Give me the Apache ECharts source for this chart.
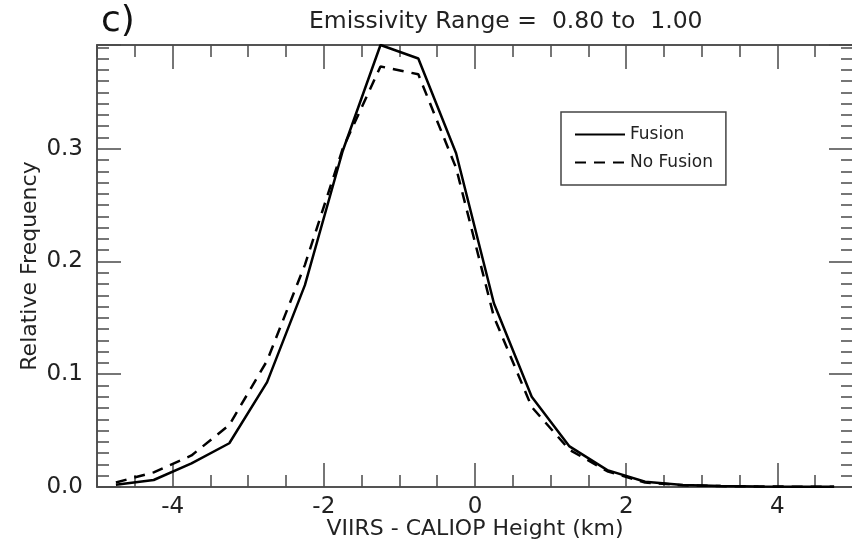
<!DOCTYPE html>
<html>
<head>
<meta charset="utf-8">
<script src="https://cdn.jsdelivr.net/npm/echarts@6/dist/echarts.min.js"></script>
<style>
  html, body { margin: 0; padding: 0; background: #fff; }
  #chart { width: 852px; height: 544px; }
</style>
</head>
<body>
<div id="chart"></div>
<script>
// bin centres (km) and relative frequency of each curve
const binCenters = [-4.75, -4.25, -3.75, -3.25, -2.75, -2.25, -1.75, -1.25, -0.75, -0.25,
                    0.25, 0.75, 1.25, 1.75, 2.25, 2.75, 3.25, 3.75, 4.25, 4.75];
const fusion   = [0.002, 0.0062, 0.021, 0.0388, 0.093, 0.179, 0.298, 0.392, 0.380, 0.296,
                  0.163, 0.080, 0.036, 0.015, 0.0047, 0.0018, 0.0008, 0.0005, 0.0003, 0.0002];
const noFusion = [0.004, 0.013, 0.028, 0.055, 0.112, 0.197, 0.300, 0.373, 0.366, 0.283,
                  0.151, 0.071, 0.033, 0.014, 0.004, 0.0015, 0.0008, 0.0005, 0.0003, 0.0002];
const xMajorTicks = [-4, -2, 0, 2, 4];
const yMax = 0.392;

const FONT = 'DejaVu Sans';
const axisCol = '#4a4a4a';

function pairs(ys) {
    return binCenters.map((x, i) => [x, ys[i]]);
}

// one axis helper: major or minor ticks, optional labels
function xAx(pos, major, labels) {
    let ax = {
        type: 'value', position: pos, min: -5, max: 5,
        axisLine: { show: true, onZero: false, lineStyle: { color: axisCol, width: 1.5 } },
        axisTick: { show: true, inside: true, length: major ? 24 : 12, lineStyle: { color: axisCol, width: 1.5 } },
        axisLabel: { show: false },
        splitLine: { show: false }
    };
    if (major) {
        ax.axisTick.customValues = xMajorTicks;
        ax.axisLabel = labels ? {
            show: true, customValues: xMajorTicks, margin: 9,
            color: '#222', fontSize: 23, fontFamily: FONT
        } : { show: false };
    } else {
        ax.interval = 0.5;
    }
    if (labels) {
        ax.name = 'VIIRS - CALIOP Height (km)';
        ax.nameLocation = 'middle';
        ax.nameMoveOverlap = false;
        ax.nameGap = 31;
        ax.nameTextStyle = { color: '#222', fontSize: 22, fontFamily: FONT };
    }
    return ax;
}

function yAx(pos, major, labels) {
    let ax = {
        type: 'value', position: pos, min: 0, max: yMax,
        interval: major ? 0.1 : 0.01,
        axisLine: { show: pos === 'left', onZero: false, lineStyle: { color: axisCol, width: 1.5 } },
        axisTick: { show: true, inside: true, length: major ? 24 : 12, lineStyle: { color: axisCol, width: 1.5 } },
        axisLabel: { show: false },
        splitLine: { show: false }
    };
    if (labels) {
        ax.axisLabel = {
            show: true, margin: 14, color: '#222', fontSize: 23, fontFamily: FONT,
            formatter: v => (v > 0.35 ? '' : v.toFixed(1))
        };
        ax.name = 'Relative Frequency';
        ax.nameLocation = 'middle';
        ax.nameMoveOverlap = false;
        ax.nameGap = 56;
        ax.nameTextStyle = { color: '#222', fontSize: 22, fontFamily: FONT };
    }
    return ax;
}

let chart = echarts.init(document.getElementById('chart'));
let option = {
    animation: false,
    backgroundColor: '#fff',
    title: [
        { text: 'c)', left: 96, top: -1, textStyle: { fontSize: 36, fontWeight: 'normal', color: '#111', fontFamily: FONT } },
        { text: 'Emissivity Range =  0.80 to  1.00', left: 304, top: 5,
          textStyle: { fontSize: 23.5, fontWeight: 'normal', color: '#222', fontFamily: FONT } }
    ],
    grid: { left: 97, top: 45, width: 756, height: 442, outerBoundsMode: 'none', containLabel: false },
    legend: {
        orient: 'vertical', left: 561, top: 112,
        borderColor: '#444', borderWidth: 1.5, padding: [14, 13, 14, 13],
        itemGap: 11, itemWidth: 50, itemHeight: 14,
        itemStyle: { opacity: 0 },
        textStyle: { fontSize: 17, color: '#222', fontFamily: FONT },
        data: ['Fusion', 'No Fusion']
    },
    xAxis: [xAx('bottom', false, false), xAx('bottom', true, true), xAx('top', false, false), xAx('top', true, false)],
    yAxis: [yAx('left', false, false), yAx('left', true, true), yAx('right', false, false), yAx('right', true, false)],
    series: [
        {
            name: 'Fusion', type: 'line', xAxisIndex: 1, yAxisIndex: 1,
            data: pairs(fusion), symbol: 'none',
            lineStyle: { color: '#000', width: 2.5, type: 'solid' }, itemStyle: { color: '#000' }
        },
        {
            name: 'No Fusion', type: 'line', xAxisIndex: 1, yAxisIndex: 1,
            data: pairs(noFusion), symbol: 'none',
            lineStyle: { color: '#000', width: 2.5, type: [11, 8] }, itemStyle: { color: '#000' }
        }
    ]
};
chart.setOption(option);
</script>
</body>
</html>
